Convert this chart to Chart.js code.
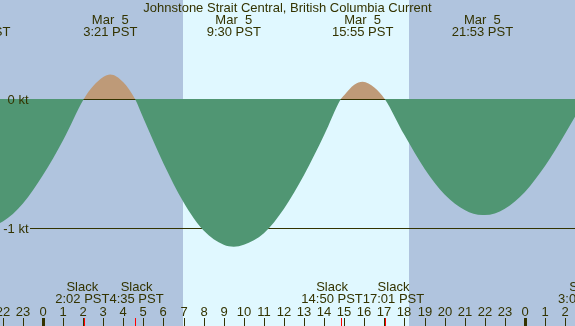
<!DOCTYPE html>
<html>
<head>
<meta charset="utf-8">
<script src="https://cdn.jsdelivr.net/npm/chart.js@4/dist/chart.umd.min.js"></script>
<style>
  html, body { margin: 0; padding: 0; background: #b0c4de; }
  #chart { display: block; }
</style>
</head>
<body>
<canvas id="chart" width="575" height="326"></canvas>
<script>
// current speed (kt), hours from Mar 5 00:00 PST
const hours  = [-3, -2, -1, 0, 1, 2.033, 2.5, 3, 3.35, 4, 4.583, 5, 6, 7, 8, 9, 9.5, 10, 11, 12, 13, 14, 14.833, 15, 15.5, 15.917, 16.5, 17.017, 18, 19, 20, 21, 21.883, 22, 23, 24, 25, 26, 27];
const speeds = [-1.0, -0.95, -0.81, -0.59, -0.32, 0, 0.10, 0.17, 0.19, 0.13, 0, -0.15, -0.50, -0.80, -1.02, -1.13, -1.145, -1.13, -1.04, -0.85, -0.59, -0.28, 0, 0.03, 0.11, 0.134, 0.09, 0, -0.28, -0.54, -0.74, -0.86, -0.90, -0.90, -0.85, -0.72, -0.52, -0.27, 0];

const slackHours  = [2.033, 4.583, 14.833, 17.017, 27.0];
const slackLabels = ["2:02 PST", "4:35 PST", "14:50 PST", "17:01 PST", "3:00 PST"];

const maxHours  = [-3.15, 3.35, 9.5, 15.917, 21.883];
const maxDates  = ["Mar  4", "Mar  5", "Mar  5", "Mar  5", "Mar  5"];
const maxLabels = ["20:51 PST", "3:21 PST", "9:30 PST", "15:55 PST", "21:53 PST"];

const hourTicks = [-2, -1, 0, 1, 2, 3, 4, 5, 6, 7, 8, 9, 10, 11, 12, 13, 14, 15, 16, 17, 18, 19, 20, 21, 22, 23, 24, 25, 26];
const sunrise = 6.97, sunset = 18.23;
const levels = [0, -1];
const levelLabels = ["0 kt", "-1 kt"];

const title = "Johnstone Strait Central, British Columbia Current";

const night = "#b0c4de";
const day = "#e0f8ff";
const ebb = "#509673";
const flood = "#be9a78";
const ink = "#333300";
const font = "13px 'Liberation Sans', Arial, sans-serif";

// push neighbouring labels apart so they just touch instead of overlapping
function spread(ctx, centers, texts){
  const c = centers.slice();
  const w = texts.map(t => ctx.measureText(t).width);
  for(let i = 1; i < c.length; i++){
    const need = (w[i - 1] + w[i]) / 2;
    const gap = c[i] - c[i - 1];
    if(gap < need){
      const d = (need - gap) / 2;
      c[i - 1] -= d;
      c[i] += d;
    }
  }
  return c;
}

const decor = {
  id: "decor",
  beforeDraw(chart){
    const {ctx, chartArea: a, scales: {x}} = chart;
    ctx.save();
    ctx.fillStyle = night;
    ctx.fillRect(0, 0, chart.width, chart.height);
    const x1 = x.getPixelForValue(sunrise), x2 = x.getPixelForValue(sunset);
    ctx.fillStyle = day;
    ctx.fillRect(Math.round(x1), a.top, Math.round(x2) - Math.round(x1), a.bottom - a.top);
    ctx.restore();
  },
  beforeDatasetsDraw(chart){
    const {ctx, scales: {y}} = chart;
    ctx.save();
    ctx.fillStyle = ink;
    levels.forEach(v => {
      const py = Math.round(y.getPixelForValue(v));
      ctx.fillRect(30, py, chart.width - 30, 1);
    });
    ctx.restore();
  },
  afterDatasetsDraw(chart){
    const {ctx, scales: {x, y}} = chart;
    ctx.save();
    ctx.font = font;
    ctx.fillStyle = ink;
    ctx.textBaseline = "alphabetic";

    ctx.textAlign = "center";
    ctx.fillText(title, chart.width / 2, 12);

    maxHours.forEach((h, i) => {
      const px = x.getPixelForValue(h);
      ctx.fillText(maxDates[i], px, 24);
      ctx.fillText(maxLabels[i], px, 36);
    });

    const slackX = spread(ctx, slackHours.map(h => x.getPixelForValue(h)), slackLabels);
    slackX.forEach((px, i) => {
      ctx.fillText("Slack", px, 291);
      ctx.fillText(slackLabels[i], px, 303);
    });

    hourTicks.forEach(h => {
      const px = Math.round(x.getPixelForValue(h));
      const lab = ((h % 24) + 24) % 24;
      ctx.fillStyle = ink;
      ctx.fillText(String(lab), px, 316);
      if(lab === 0) ctx.fillRect(px - 1, 318, 3, 8);
      else ctx.fillRect(px, 318, 1, 8);
    });

    ctx.fillStyle = "#ff0000";
    slackHours.forEach(h => {
      const px = Math.round(x.getPixelForValue(h));
      ctx.fillRect(px, 318, 1, 8);
    });

    ctx.fillStyle = ink;
    ctx.textAlign = "right";
    levels.forEach((v, i) => {
      const py = y.getPixelForValue(v);
      ctx.fillText(levelLabels[i], 28.5, py + 5);
    });
    ctx.restore();
  }
};

const pxPerHour = 20.08;
const xMin = -43 / pxPerHour;
const xMax = xMin + 575 / pxPerHour;

new Chart(document.getElementById("chart"), {
  type: "line",
  data: {
    datasets: [{
      data: hours.map((h, i) => ({x: h, y: speeds[i]})),
      borderColor: "rgba(0,0,0,0)",
      borderWidth: 1,
      pointRadius: 0,
      cubicInterpolationMode: "monotone",
      fill: {target: {value: 0}, above: flood, below: ebb}
    }]
  },
  options: {
    responsive: false,
    animation: false,
    devicePixelRatio: 1,
    layout: {padding: 0},
    events: [],
    plugins: {legend: {display: false}, tooltip: {enabled: false}, title: {display: false}},
    scales: {
      x: {type: "linear", min: xMin, max: xMax, display: false},
      y: {type: "linear", min: -227 / 129, max: 99 / 129, display: false}
    }
  },
  plugins: [decor]
});
</script>
</body>
</html>
